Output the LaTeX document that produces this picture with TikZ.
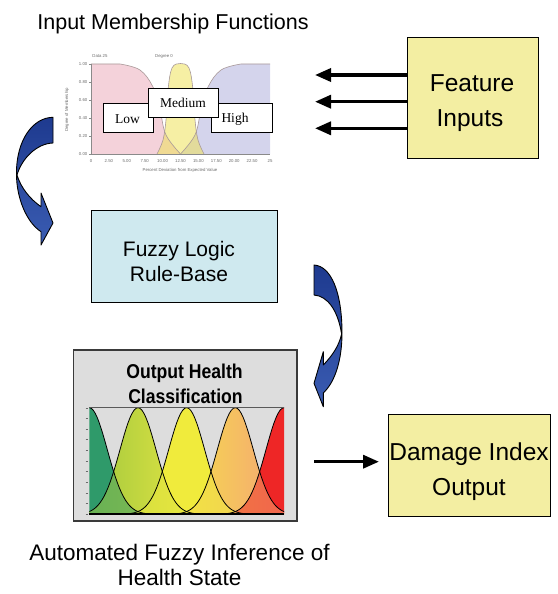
\documentclass[tikz,border=0pt]{standalone}
\usepackage{fontspec}
\setmainfont{Liberation Sans}
\newfontfamily\timesface{Liberation Serif}
\newfontfamily\narrowsans[FakeStretch=0.88]{Liberation Sans}
\usetikzlibrary{arrows.meta}

\definecolor{paleyellow}{HTML}{F3EEA2}
\definecolor{paleblue}{HTML}{CFE9EF}
\definecolor{panelgray}{HTML}{DDDDDD}
\definecolor{panelframe}{HTML}{3A3A3A}
\definecolor{lowpink}{HTML}{F4D2DA}
\definecolor{highlav}{HTML}{D4D4EC}
\definecolor{medyellow}{HTML}{EEE25A}
\definecolor{mfline}{HTML}{A89898}
\definecolor{axisgray}{HTML}{8A8A8A}
\definecolor{tinytext}{HTML}{6A6A6A}
\definecolor{cgreen}{HTML}{2F9A6A}
\definecolor{cygL}{HTML}{9CC63C}
\definecolor{cygR}{HTML}{E6E644}
\definecolor{cyellow}{HTML}{F0EB3C}
\definecolor{corL}{HTML}{F5DE4A}
\definecolor{corR}{HTML}{F5A07A}
\definecolor{cred}{HTML}{EE2626}
\definecolor{arrowtop}{HTML}{1E3A8F}
\definecolor{arrowbot}{HTML}{3A5CB2}

% one bell-shaped class of the output partition, peak at x = #1
\newcommand\gausspath[1]{(#1-60,514.3) -- plot[domain=#1-60:#1+60,samples=61] (\x,{514.3-106.6*exp(-0.5*((\x-#1)/18)^2)}) -- (#1+60,514.3) -- cycle}
\newcommand\gaussline[1]{plot[domain=#1-60:#1+60,samples=61] (\x,{514.3-106.6*exp(-0.5*((\x-#1)/18)^2)})}

\begin{document}
\begin{tikzpicture}[x=1pt,y=-1pt,
  box/.style={draw=black, line width=0.9pt, rectangle, inner sep=0pt, anchor=north west},
  txt/.style={inner sep=0pt, anchor=base},
  bigtext/.style={font=\fontsize{24.5}{30}\selectfont},
  midtext/.style={font=\fontsize{21}{25}\selectfont},
  tiny/.style={inner sep=0pt, text=tinytext, font=\fontsize{4.3}{5}\selectfont},
  mflabel/.style={draw=black, line width=0.8pt, fill=white, rectangle, inner sep=0pt, anchor=north west},
  mftext/.style={inner sep=0pt, font=\timesface\fontsize{13.5}{15}\selectfont},
  fatarrow/.style={line width=3.4pt, -{Triangle[length=16pt,width=13pt]}},
  mfcurve/.style={draw=mfline, line width=0.6pt},
  bell/.style={draw=black, line width=0.8pt},
  bluearrow/.style={top color=arrowtop, bottom color=arrowbot, draw=black, line width=0.9pt, line join=round}]

\useasboundingbox (0,0) rectangle (557,594);

% ---------- title ----------
\node[txt, font=\fontsize{21.5}{25}\selectfont] (title) at (173,29.3) {Input Membership Functions};

% ---------- input membership chart ----------
\fill[lowpink] (91,154) -- (91,64) -- plot[smooth,tension=.6] coordinates {(120,64) (140,70) (153,87) (160,110) (166,135) (180.5,154)} -- cycle;
\fill[highlav] (270,154) -- (270,64) -- plot[smooth,tension=.6] coordinates {(241,64) (221,70) (208,87) (201,110) (195,135) (180.5,154)} -- cycle;
\fill[medyellow, fill opacity=.55] plot[smooth,tension=.6] coordinates {(157,154) (163,140) (166,120) (168,90) (172,68) (180.5,63.5) (189,68) (193,90) (195,120) (198,140) (204,154)} -- cycle;
\draw[mfcurve] (91,64) -- plot[smooth,tension=.6] coordinates {(120,64) (140,70) (153,87) (160,110) (166,135) (180.5,154)};
\draw[mfcurve] (270,64) -- plot[smooth,tension=.6] coordinates {(241,64) (221,70) (208,87) (201,110) (195,135) (180.5,154)};
\draw[mfcurve] plot[smooth,tension=.6] coordinates {(157,154) (163,140) (166,120) (168,90) (172,68) (180.5,63.5) (189,68) (193,90) (195,120) (198,140) (204,154)};
\draw[axisgray, line width=0.5pt] (91,64) -- (91,154) -- (270,154);
\foreach \v/\lab in {0/1.00,1/0.80,2/0.60,3/0.40,4/0.20,5/0.00} {
  \draw[axisgray, line width=0.4pt] (89,{64+18*\v}) -- (91,{64+18*\v});
  \node[tiny, anchor=east] at (87.5,{64+18*\v}) {\lab};
}
\foreach \k/\lab in {0/0,1/2.50,2/5.00,3/7.50,4/10.00,5/12.50,6/15.00,7/17.50,8/20.00,9/22.50,10/25} {
  \node[tiny] at ({91+17.9*\k},161) {\lab};
}
\node[tiny] at (100,56) {Data 25};
\node[tiny] at (164,56) {Degree 0};
\node[tiny] at (180,170) {Percent Deviation from Expected Value};
\node[tiny, rotate=90] at (67,110) {Degree of Membership};

\node[mflabel, minimum width=50pt, minimum height=29pt] (lowbox) at (103,103) {};
\node[mflabel, minimum width=61pt, minimum height=29pt] (highbox) at (211,103) {};
\node[mflabel, minimum width=70pt, minimum height=29pt] (medbox) at (148,88) {};
\node[mftext] (lowtxt) at (127.5,119) {Low};
\node[mftext] (hightxt) at (235,119) {High};
\node[mftext] (medtxt) at (183,103) {Medium};

% ---------- feature inputs ----------
\node[box, fill=paleyellow, minimum width=131pt, minimum height=121pt] (feat) at (407,37) {};
\node[txt, bigtext] (feat1) at (472,91.7) {Feature};
\node[txt, bigtext] (feat2) at (470,126) {Inputs};
\coordinate (in1) at (315,75);
\coordinate (in2) at (315,101.7);
\coordinate (in3) at (315,128.3);
\foreach \c in {in1,in2,in3} \draw[fatarrow] (feat.west |- \c) -- (\c);

% ---------- curved arrow: chart to rule base ----------
\shadedraw[bluearrow] (53,117.3) .. controls (33,117.5) and (16,140) .. (16.5,174.5)
  .. controls (16.5,197) and (26,222) .. (41,231.7) -- (41,245) -- (53,223) -- (41,193) -- (41,206.7)
  .. controls (30,199) and (21,188) .. (17,175)
  .. controls (22,158) and (37,143.5) .. (53,143) -- cycle;

% ---------- rule base ----------
\node[box, fill=paleblue, minimum width=186pt, minimum height=92pt] (rules) at (90.7,210) {};
\node[txt, midtext] (rules1) at (179,256.7) {Fuzzy Logic};
\node[txt, midtext] (rules2) at (179,281.7) {Rule-Base};

% ---------- curved arrow: rule base to output ----------
\shadedraw[bluearrow] (314,265) .. controls (331,266) and (342,292) .. (342,333)
  .. controls (342,358) and (336,381) .. (323.3,393) -- (323.3,406.7) -- (314,383.3) -- (323.3,351.7) -- (323.3,365)
  .. controls (332,356) and (339,346) .. (341.6,334)
  .. controls (338,311) and (328,296) .. (314,295) -- cycle;

% ---------- output health classification ----------
\node[box, draw=panelframe, line width=1.5pt, fill=panelgray, minimum width=223.3pt, minimum height=171pt] (outbox) at (72.7,349) {};
\node[txt, font=\narrowsans\bfseries\fontsize{20}{24}\selectfont] (outt1) at (184.5,378.3) {Output Health};
\node[txt, font=\narrowsans\bfseries\fontsize{20}{24}\selectfont] (outt2) at (185.5,403.3) {Classification};

\begin{scope}
  \clip (89.3,407.7) rectangle (284,514.3);
  \fill[cgreen] \gausspath{89.3};
  \shade[left color=cygL, right color=cygR] \gausspath{138};
  \fill[cyellow] \gausspath{186.65};
  \shade[left color=corL, right color=corR] \gausspath{235.3};
  \fill[cred] \gausspath{284};
  % blend the lower overlaps of neighbouring classes
  \begin{scope}\clip \gausspath{138};
    \fill[cgreen, fill opacity=.5] \gausspath{89.3};\end{scope}
  \begin{scope}\clip \gausspath{186.65};
    \shade[left color=cygL, right color=cygR, fill opacity=.5] \gausspath{138};\end{scope}
  \begin{scope}\clip \gausspath{235.3};
    \fill[cyellow, fill opacity=.5] \gausspath{186.65};\end{scope}
  \begin{scope}\clip \gausspath{284};
    \shade[left color=corL, right color=corR, fill opacity=.5] \gausspath{235.3};\end{scope}
  \foreach \c in {89.3,138,186.65,235.3,284} \draw[bell] \gaussline{\c};
\end{scope}
\draw[draw=black!65, line width=1.2pt] (89.3,407.7) -- (284,407.7);
\draw[black, line width=2pt] (89.3,514.3) -- (284,514.3);
\foreach \k in {0,...,10} \draw[tinytext, line width=0.4pt] (85.5,{407.7+10.66*\k}) -- (88,{407.7+10.66*\k});

% ---------- damage index output ----------
\node[box, fill=paleyellow, minimum width=162pt, minimum height=102pt] (dmg) at (388,414) {};
\node[txt, bigtext] (dmg1) at (469,460) {Damage Index};
\node[txt, bigtext] (dmg2) at (469,495) {Output};
\coordinate (outstart) at (314,461.7);
\draw[fatarrow, shorten >=9pt] (outstart) -- (outstart -| dmg.west);

% ---------- caption ----------
\node[txt, font=\fontsize{22.5}{26}\selectfont] (cap1) at (179.5,560) {Automated Fuzzy Inference of};
\node[txt, font=\fontsize{22.5}{26}\selectfont] (cap2) at (179.5,585) {Health State};

\end{tikzpicture}
\end{document}
